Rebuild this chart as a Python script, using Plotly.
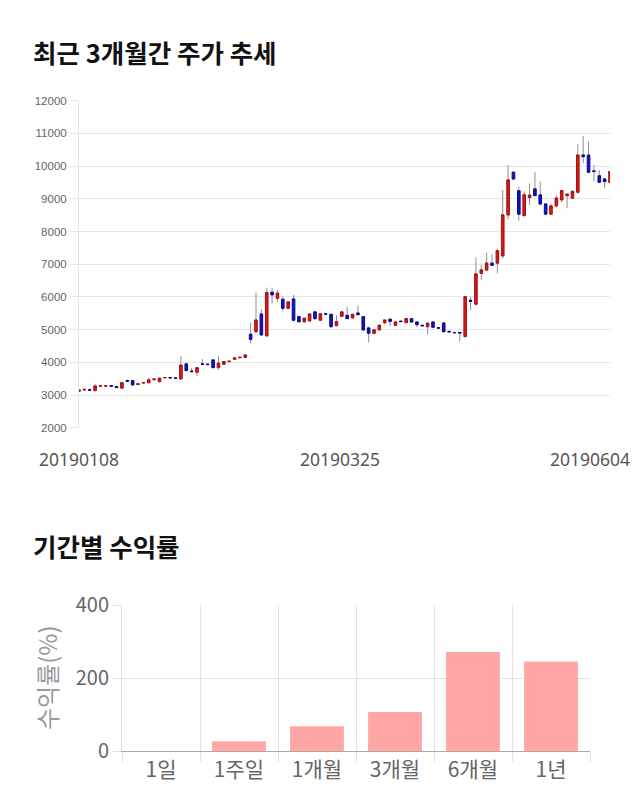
import pandas as pd
import plotly.graph_objects as go

# ---------------- data ----------------
holidays = ["2019-02-04", "2019-02-05", "2019-02-06", "2019-03-01", "2019-05-01", "2019-05-06"]
trade_days = [d for d in pd.bdate_range("2019-01-08", "2019-06-04") if d.strftime("%Y-%m-%d") not in holidays]
dates = [d.strftime("%Y%m%d") for d in trade_days]

opens = [3110, 3150, 3160, 3130, 3270, 3275, 3280, 3260, 3210, 3440,
         3440, 3320, 3365, 3375, 3470, 3405, 3525, 3530, 3520, 3490,
         3950, 3730, 3695, 3950, 3940, 4070, 3835, 3940, 4020, 4090,
         4140, 4150, 4855, 4935, 5475, 4805, 6140, 5955, 5925, 5650,
         5935, 5395, 5240, 5265, 5540, 5285, 5480, 5465, 5120, 5405,
         5435, 5355, 5505, 5395, 5050, 4885, 4990, 5210, 5315, 5130,
         5255, 5210, 5335, 5230, 5130, 5090, 5230, 5060, 5200, 4945,
         4910, 4910, 4785, 5895, 5775, 6720, 6820, 7030, 7030, 7250,
         8505, 9810, 9245, 8485, 9035, 9300, 9120, 8840, 8530, 8780,
         8965, 9095, 9020, 9200, 10335, 10335, 9850, 9705, 9605, 9505]
highs = [3160, 3180, 3200, 3340, 3300, 3290, 3290, 3280, 3390, 3480,
         3450, 3350, 3390, 3530, 3500, 3520, 3550, 3545, 3530, 4190,
         3970, 3830, 3850, 4100, 3960, 4080, 4190, 4030, 4050, 4150,
         4170, 4230, 5210, 6130, 5630, 6280, 6280, 6210, 6020, 5880,
         6060, 5430, 5370, 5500, 5580, 5500, 5500, 5480, 5435, 5560,
         5700, 5480, 5740, 5410, 5070, 5000, 5150, 5300, 5340, 5250,
         5280, 5350, 5350, 5250, 5150, 5230, 5260, 5080, 5220, 4960,
         4925, 4930, 6005, 6005, 7210, 6975, 7350, 7300, 7480, 9270,
         10030, 9830, 9380, 9225, 9475, 9810, 9525, 8870, 8850, 9100,
         9270, 9160, 9260, 10670, 10920, 10750, 10030, 9880, 9640, 9850]
lows = [3100, 3140, 3130, 3120, 3250, 3260, 3260, 3210, 3200, 3410,
        3290, 3310, 3350, 3360, 3430, 3390, 3510, 3510, 3490, 3480,
        3730, 3680, 3580, 3920, 3910, 3820, 3765, 3920, 4000, 4070,
        4120, 4140, 4580, 4900, 4800, 4790, 5800, 5850, 5560, 5620,
        5250, 5200, 5200, 5240, 5300, 5260, 5460, 5050, 5100, 5380,
        5320, 5330, 5440, 4950, 4610, 4850, 4970, 5160, 5110, 5100,
        5230, 5200, 5220, 5070, 5100, 4860, 5040, 5030, 4910, 4920,
        4890, 4630, 4770, 5600, 5740, 6515, 6790, 6950, 6720, 7180,
        8370, 9580, 8330, 8450, 8810, 9080, 8800, 8500, 8510, 8740,
        8900, 8710, 8990, 9150, 10085, 9780, 9525, 9480, 9320, 9480]
closes = [3150, 3170, 3150, 3275, 3280, 3280, 3270, 3225, 3375, 3420,
          3305, 3340, 3380, 3460, 3485, 3510, 3535, 3525, 3510, 3910,
          3745, 3715, 3835, 3940, 3930, 3835, 3970, 4020, 4030, 4130,
          4150, 4220, 4700, 5290, 4835, 6130, 6060, 6110, 5650, 5845,
          5285, 5240, 5345, 5475, 5335, 5485, 5470, 5090, 5240, 5540,
          5335, 5465, 5455, 4990, 4885, 4990, 5130, 5290, 5250, 5230,
          5245, 5335, 5230, 5150, 5115, 5190, 5070, 5045, 4935, 4930,
          4905, 4895, 6005, 5865, 6700, 6820, 7030, 6965, 7410, 8505,
          9575, 9605, 8530, 9120, 9110, 9095, 8840, 8530, 8780, 9020,
          9250, 9140, 9225, 10335, 10285, 9810, 9840, 9505, 9525, 9830]
date_labels = ["20190108", "20190325", "20190604"]

periods = ["1일", "1주일", "1개월", "3개월", "6개월", "1년"]
returns = [0, 27, 68, 107, 271, 245]

# ---------------- figure ----------------
body_top = [max(o, c) for o, c in zip(opens, closes)]
body_bot = [min(o, c) for o, c in zip(opens, closes)]

KR = "Noto Sans CJK KR"
RED, RED_LINE = "#d41a1a", "#a81010"
BLUE, BLUE_LINE = "#1212c0", "#0a0a90"
GRID = "#e6e6e6"

fig = go.Figure()

# wicks (gray)
fig.add_trace(go.Candlestick(
    x=dates, open=body_top, high=highs, low=lows, close=body_top,
    increasing=dict(line=dict(color="#8f8f8f", width=1), fillcolor="rgba(0,0,0,0)"),
    decreasing=dict(line=dict(color="#8f8f8f", width=1), fillcolor="rgba(0,0,0,0)"),
    xaxis="x", yaxis="y", showlegend=False, hoverinfo="skip"))
# bodies
fig.add_trace(go.Candlestick(
    x=dates, open=opens, high=body_top, low=body_bot, close=closes,
    increasing=dict(line=dict(color=RED_LINE, width=1), fillcolor=RED),
    decreasing=dict(line=dict(color=BLUE_LINE, width=1), fillcolor=BLUE),
    xaxis="x", yaxis="y", showlegend=False))

fig.add_trace(go.Bar(
    x=periods, y=returns, xaxis="x2", yaxis="y2",
    marker=dict(color="#ffa7a7", line=dict(width=0)),
    showlegend=False))

fig.update_layout(
    template="plotly_white",
    width=640, height=810,
    margin=dict(l=0, r=0, t=0, b=0, autoexpand=False),
    paper_bgcolor="white", plot_bgcolor="white",
    bargap=0.31,
    xaxis=dict(
        domain=[79 / 640, 610 / 640], anchor="y", type="category", automargin=False,
        range=[0, len(dates) - 1], rangeslider=dict(visible=False),
        showgrid=False, showline=False, zeroline=False, ticks="",
        tickmode="array", tickvals=[0, 48.66, 95.27], ticktext=date_labels,
        tickfont=dict(family="Noto Sans", size=17.5, color="#555555"),
        ticklabelstandoff=20,
    ),
    yaxis=dict(
        domain=[(810 - 427.7) / 810, (810 - 100.7) / 810], anchor="x", automargin=False,
        range=[2000, 12000], dtick=1000, tick0=2000, tickformat="d",
        showgrid=True, gridcolor=GRID, gridwidth=1,
        showline=True, linecolor=GRID, zeroline=False,
        ticks="outside", ticklen=9, tickcolor=GRID,
        tickfont=dict(family="Liberation Sans", size=11.5, color="#666666"),
    ),
    xaxis2=dict(
        domain=[122 / 640, 590 / 640], anchor="y2", type="category", automargin=False,
        tickson="boundaries", showgrid=True, gridcolor="#e2e2e2",
        ticks="outside", ticklen=10, tickcolor="#e2e2e2",
        showline=True, linecolor="#aaaaaa",
        tickfont=dict(family=KR, size=21, color="#666666"),
    ),
    yaxis2=dict(
        domain=[(810 - 751) / 810, (810 - 605) / 810], anchor="x2", automargin=False,
        range=[0, 400], dtick=200, tickformat="d",
        showgrid=True, gridcolor="#e2e2e2",
        showline=True, linecolor="#e2e2e2", zeroline=False,
        ticks="outside", ticklen=8, tickcolor="#e2e2e2",
        tickfont=dict(family=KR, size=20, color="#666666"),
    ),
    annotations=[
        dict(text="<b>최근 3개월간 주가 추세</b>", xref="paper", yref="paper",
             x=31 / 640, y=(810 - 51) / 810, xanchor="left", yanchor="middle",
             showarrow=False, font=dict(family=KR, size=25.5, color="#111111")),
        dict(text="<b>기간별 수익률</b>", xref="paper", yref="paper",
             x=31 / 640, y=(810 - 545) / 810, xanchor="left", yanchor="middle",
             showarrow=False, font=dict(family=KR, size=25.5, color="#111111")),
        dict(text="수익률(%)", xref="paper", yref="paper", textangle=-90,
             x=46 / 640, y=(810 - 678) / 810, xanchor="center", yanchor="middle",
             showarrow=False, font=dict(family=KR, size=24, color="#999999")),
    ],
)

fig.write_html("out.html")
